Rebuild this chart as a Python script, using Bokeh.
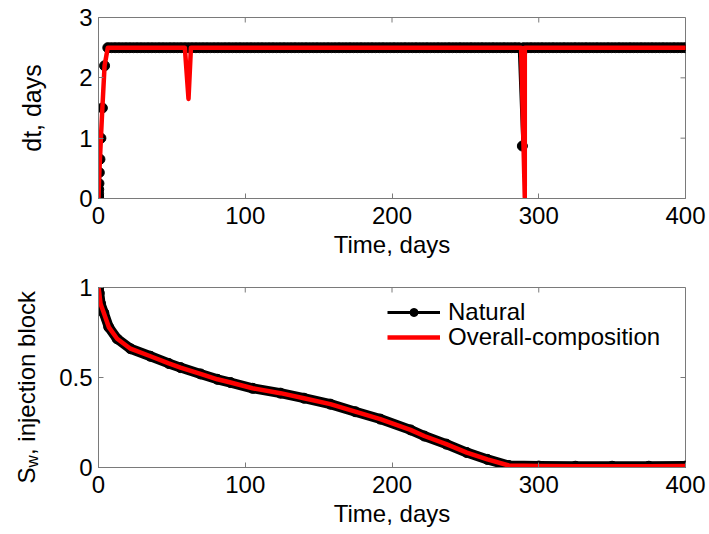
import numpy as np
from bokeh.plotting import figure
from bokeh.layouts import column, row
from bokeh.models import (FixedTicker, Legend, LegendItem, Range1d,
                          ColumnDataSource)
from bokeh.core.properties import value
from bokeh.embed import file_html
from bokeh.resources import INLINE

FONT = "Liberation Sans"
GRAY = "#7a7a7a"

# ---------------- data ----------------
x_ticks = [0, 100, 200, 300, 400]
dt_ticks = [0, 1, 2, 3]
sw_ticks = [0, 0.5, 1]
sw_tick_labels = ["0", "0.5", "1"]

# time-step sizes (days), Natural formulation
dt_natural = [
    0.005, 0.01, 0.02, 0.04, 0.08, 0.15, 0.25, 0.43, 0.65, 1.0, 1.5, 2.2,
    2.5, 2.5, 2.5, 2.5, 2.5, 2.5, 2.5, 2.5, 2.5, 2.5,
    2.5, 2.5, 2.5, 2.5, 2.5, 2.5, 2.5, 2.5, 2.5, 2.5,
    2.5, 2.5, 2.5, 2.5, 2.5, 2.5, 2.5, 2.5, 2.5, 2.5,
    2.5, 2.5, 2.5, 2.5, 2.5, 2.5, 2.5, 2.5, 2.5, 2.5,
    2.5, 2.5, 2.5, 2.5, 2.5, 2.5, 2.5, 2.5, 2.5, 2.5,
    2.5, 2.5, 2.5, 2.5, 2.5, 2.5, 2.5, 2.5, 2.5, 2.5,
    2.5, 2.5, 2.5, 2.5, 2.5, 2.5, 2.5, 2.5, 2.5, 2.5,
    2.5, 2.5, 2.5, 2.5, 2.5, 2.5, 2.5, 2.5, 2.5, 2.5,
    2.5, 2.5, 2.5, 2.5, 2.5, 2.5, 2.5, 2.5, 2.5, 2.5,
    2.5, 2.5, 2.5, 2.5, 2.5, 2.5, 2.5, 2.5, 2.5, 2.5,
    2.5, 2.5, 2.5, 2.5, 2.5, 2.5, 2.5, 2.5, 2.5, 2.5,
    2.5, 2.5, 2.5,
    0.87,
    2.5, 2.5, 2.5, 2.5, 2.5, 2.5, 2.5, 2.5, 2.5, 2.5,
    2.5, 2.5, 2.5, 2.5, 2.5, 2.5, 2.5, 2.5, 2.5, 2.5,
    2.5, 2.5, 2.5, 2.5, 2.5, 2.5, 2.5, 2.5, 2.5, 2.5,
    2.5, 2.5, 2.5, 2.5, 2.5, 2.5, 2.5, 2.5, 2.5, 2.5,
    2.5, 2.5, 2.5, 2.5, 2.5,
]

# time-step sizes (days), Overall-composition formulation
dt_overall = [
    0.005, 0.01, 0.02, 0.04, 0.08, 0.15, 0.25, 0.43, 0.65, 1.0, 1.5, 2.2,
    2.5, 2.5, 2.5, 2.5, 2.5, 2.5, 2.5, 2.5, 2.5, 2.5,
    2.5, 2.5, 2.5, 2.5, 2.5, 2.5, 2.5, 2.5, 2.5, 2.5,
    2.5, 2.5,
    1.65,
    2.5, 2.5, 2.5, 2.5, 2.5, 2.5, 2.5, 2.5, 2.5, 2.5,
    2.5, 2.5, 2.5, 2.5, 2.5, 2.5, 2.5, 2.5, 2.5, 2.5,
    2.5, 2.5, 2.5, 2.5, 2.5, 2.5, 2.5, 2.5, 2.5, 2.5,
    2.5, 2.5, 2.5, 2.5, 2.5, 2.5, 2.5, 2.5, 2.5, 2.5,
    2.5, 2.5, 2.5, 2.5, 2.5, 2.5, 2.5, 2.5, 2.5, 2.5,
    2.5, 2.5, 2.5, 2.5, 2.5, 2.5, 2.5, 2.5, 2.5, 2.5,
    2.5, 2.5, 2.5, 2.5, 2.5, 2.5, 2.5, 2.5, 2.5, 2.5,
    2.5, 2.5, 2.5, 2.5, 2.5, 2.5, 2.5, 2.5, 2.5, 2.5,
    2.5, 2.5, 2.5, 2.5, 2.5, 2.5, 2.5, 2.5, 2.5, 2.5,
    2.5,
    0.02,
    2.5, 2.5, 2.5, 2.5, 2.5, 2.5, 2.5, 2.5, 2.5, 2.5,
    2.5, 2.5, 2.5, 2.5, 2.5, 2.5, 2.5, 2.5, 2.5, 2.5,
    2.5, 2.5, 2.5, 2.5, 2.5, 2.5, 2.5, 2.5, 2.5, 2.5,
    2.5, 2.5, 2.5, 2.5, 2.5, 2.5, 2.5, 2.5, 2.5, 2.5,
    2.5, 2.5, 2.5, 2.5, 2.5,
]

# water saturation in the injection block
sw_time = [0, 0.5, 1.4, 3.6, 7.0, 12.7, 21.8, 35.4, 47.9, 55.9, 69.5, 81.0,
           90.0, 105.0, 124.0, 140.0, 158.0, 175.0, 192.0, 212.6, 222.0,
           237.0, 251.0, 265.0, 279.6, 300.0, 325.0, 350.0, 375.0, 400.0]
sw_natural = [1.0, 0.97, 0.91, 0.86, 0.78, 0.715, 0.66, 0.618, 0.578, 0.555,
              0.52, 0.49, 0.472, 0.44, 0.413, 0.385, 0.352, 0.31, 0.269,
              0.209, 0.175, 0.13, 0.083, 0.045, 0.011, 0.008, 0.007, 0.007,
              0.007, 0.008]
sw_overall = [1.0, 0.97, 0.91, 0.86, 0.78, 0.715, 0.66, 0.618, 0.578, 0.555,
              0.52, 0.49, 0.472, 0.44, 0.413, 0.385, 0.352, 0.31, 0.269,
              0.209, 0.175, 0.13, 0.083, 0.045, 0.011, 0.008, 0.007, 0.007,
              0.007, 0.008]

# time at which each step starts
t_natural = np.concatenate([[0.0], np.cumsum(dt_natural)[:-1]])
t_overall = np.concatenate([[0.0], np.cumsum(dt_overall)[:-1]])

FRAME_W = 587
TICK_LEN = 5  # px


def style_axis(ax, ticks, overrides=None):
    ax.ticker = FixedTicker(ticks=ticks)
    ax.axis_line_color = GRAY
    ax.major_tick_line_color = GRAY
    ax.major_tick_in = TICK_LEN
    ax.major_tick_out = 0
    ax.minor_tick_line_color = None
    ax.major_label_text_font = FONT
    ax.major_label_text_color = "black"
    ax.major_label_text_font_size = "24px"
    ax.major_label_standoff = 8
    ax.axis_label_text_font = FONT
    ax.axis_label_text_font_style = "normal"
    ax.axis_label_text_color = "black"
    if overrides:
        ax.major_label_overrides = overrides


def make_fig(frame_h, ymax, yticks, bl, bt, bb, overrides=None):
    p = figure(frame_width=FRAME_W, frame_height=frame_h,
               x_range=Range1d(0, 400), y_range=Range1d(0, ymax),
               output_backend="svg", toolbar_location=None,
               min_border_left=bl, min_border_right=24,
               min_border_top=bt, min_border_bottom=bb)
    p.grid.visible = False
    p.outline_line_color = GRAY
    p.background_fill_color = "white"
    p.border_fill_color = "white"
    style_axis(p.xaxis[0], x_ticks)
    style_axis(p.yaxis[0], yticks, overrides=overrides)
    p.yaxis[0].major_label_standoff = 6
    # mirrored inward ticks on the top and right edges of the box
    dy = ymax * TICK_LEN / frame_h
    dx = 400 * TICK_LEN / FRAME_W
    p.segment(x0=x_ticks, y0=[ymax] * len(x_ticks), x1=x_ticks,
              y1=[ymax - dy] * len(x_ticks), line_color=GRAY, line_width=1)
    p.segment(x0=[400] * len(yticks), y0=yticks,
              x1=[400 - dx] * len(yticks), y1=yticks,
              line_color=GRAY, line_width=1)
    return p


# ---------------- top: time-step size ----------------
p1 = make_fig(181, 3, dt_ticks, 98, 17, 70)
p1.xaxis[0].axis_label = "Time, days"
p1.xaxis[0].axis_label_text_font_size = "24px"
p1.xaxis[0].axis_label_standoff = 4
p1.yaxis[0].axis_label = "dt, days"
p1.yaxis[0].axis_label_text_font_size = "25px"
p1.yaxis[0].axis_label_standoff = 30

src_n = ColumnDataSource(dict(t=t_natural, dt=dt_natural))
src_o = ColumnDataSource(dict(t=t_overall, dt=dt_overall))
p1.line("t", "dt", source=src_n, line_color="black", line_width=2)
p1.scatter("t", "dt", source=src_n, size=10, fill_color="black",
           line_color="black")
p1.line("t", "dt", source=src_o, line_color="red", line_width=4.5,
        line_join="round")

# ---------------- bottom: saturation ----------------
LABEL_W = 50
P2_H = 19 + 180 + 67
p2 = make_fig(180, 1, sw_ticks, 98 - LABEL_W, 19, 67,
              overrides={t: s for t, s in zip(sw_ticks, sw_tick_labels)})
p2.xaxis[0].axis_label = "Time, days"
p2.xaxis[0].axis_label_text_font_size = "24px"
p2.xaxis[0].axis_label_standoff = 4

src_sw_n = ColumnDataSource(dict(t=sw_time, sw=sw_natural))
src_sw_o = ColumnDataSource(dict(t=sw_time, sw=sw_overall))
p2.line("t", "sw", source=src_sw_n, line_color="black", line_width=10,
        line_join="round", line_cap="round")
nat_leg_line = p2.line("t", "sw", source=src_sw_n, line_color="black",
                       line_width=3)
nat_pts = p2.scatter("t", "sw", source=src_sw_n, size=10, fill_color="black",
                     line_color="black")
ovr_line = p2.line("t", "sw", source=src_sw_o, line_color="red",
                   line_width=4.5, line_join="round")

leg1 = Legend(items=[LegendItem(label="Natural",
                                renderers=[nat_leg_line, nat_pts])],
              location=(289, 141))
leg2 = Legend(items=[LegendItem(label="Overall-composition",
                                renderers=[ovr_line])],
              location=(289, 116))
for lg in (leg1, leg2):
    lg.border_line_alpha = 0
    lg.background_fill_alpha = 0
    lg.padding = 0
    lg.margin = 0
    lg.spacing = 0
    lg.glyph_width = 53
    lg.glyph_height = 20
    lg.label_standoff = 8
    lg.label_text_font = FONT
    lg.label_text_font_size = "24px"
    lg.label_text_color = "black"
    p2.add_layout(lg)

# narrow panel holding the y-axis title "S_w, injection block"
lab = figure(frame_width=LABEL_W, frame_height=P2_H,
             x_range=Range1d(0, LABEL_W), y_range=Range1d(0, P2_H),
             output_backend="svg", toolbar_location=None,
             min_border=0, outline_line_color=None)
lab.axis.visible = False
lab.grid.visible = False
lab.border_fill_color = "white"
lab.background_fill_color = "white"
for txt, x, y, fs in [("S", 26, 70, "24px"),
                      ("w", 31.5, 86, "17px"),
                      (", injection block", 26, 98.5, "24px")]:
    lab.text(x=[x], y=[y], text=[txt], angle=np.pi / 2,
             text_font=value(FONT), text_font_size=value(fs),
             text_color="black", text_align="left",
             text_baseline="alphabetic")

layout = column(p1, row(lab, p2, spacing=0), spacing=0)
open("out.html", "w").write(file_html(layout, INLINE))
